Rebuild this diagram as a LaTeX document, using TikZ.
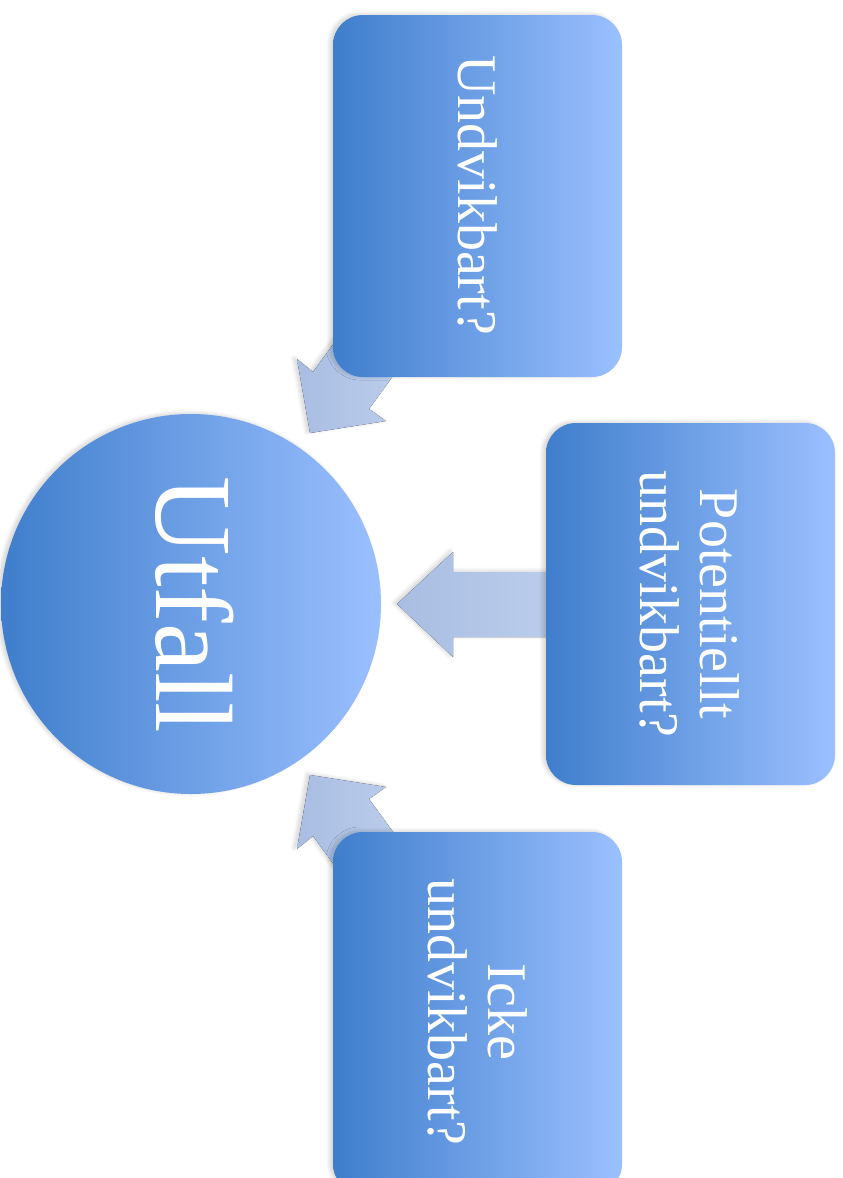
\documentclass[tikz,border=0pt]{standalone}
\usepackage{fontspec}
\setmainfont{Liberation Serif}
\usetikzlibrary{shadows.blur}
\definecolor{bdark}{HTML}{3F7ECC}
\definecolor{bmid}{HTML}{6C9EE2}
\definecolor{blight}{HTML}{9BC0FF}
\definecolor{adark}{HTML}{A8BDE2}
\definecolor{alight}{HTML}{BCCEEC}
\tikzset{
  softshadow/.style={blur shadow={shadow xshift=-3pt, shadow yshift=1pt, shadow blur radius=4pt, shadow blur steps=8, shadow opacity=18}},
  boxnode/.style={rectangle, rounded corners=30pt, minimum width=289pt, minimum height=362pt,
    left color=bdark, middle color=bmid, right color=blight, softshadow, text=white, align=center, inner sep=0pt},
  blockarrow/.style={left color=adark, right color=alight, softshadow, draw=none},
  boxtext/.style={rotate=-90, font=\fontsize{56}{60}\selectfont, text=white, align=center}
}
\begin{document}
\begin{tikzpicture}[x=1pt,y=-1pt]
\useasboundingbox (0,0) rectangle (843,1178);
% arrows (behind)
\fill[blockarrow] (310,433) -- (297,359) -- (313,372) -- (348,324) -- (404,361) -- (369,409) -- (386,421) -- cycle;
\fill[blockarrow] (397,604) -- (453,552) -- (453,572) -- (560,572) -- (560,637) -- (453,637) -- (453,657) -- cycle;
\fill[blockarrow] (310,775) -- (297,849) -- (313,836) -- (348,884) -- (404,847) -- (369,799) -- (386,787) -- cycle;
% circle
\node[circle, minimum size=380pt, inner sep=0pt, left color=bdark, middle color=bmid, right color=blight, softshadow] (utfall) at (191,604) {};
\node[rotate=-90, font=\fontsize{110}{110}\selectfont, text=white] (utfalltext) at (195,605) {Utfall};
% boxes
\node[boxnode] (b1) at (477.5,196) {};
\node[boxtext] (t1) at (478,195) {Undvikbart?};
\node[boxnode] (b2) at (690.5,604) {};
\node[boxtext] (t2) at (690,604) {Potentiellt\\undvikbart?};
\node[boxnode] (b3) at (477.5,1013) {};
\node[boxtext] (t3) at (478,1012) {Icke\\undvikbart?};
\end{tikzpicture}
\end{document}
